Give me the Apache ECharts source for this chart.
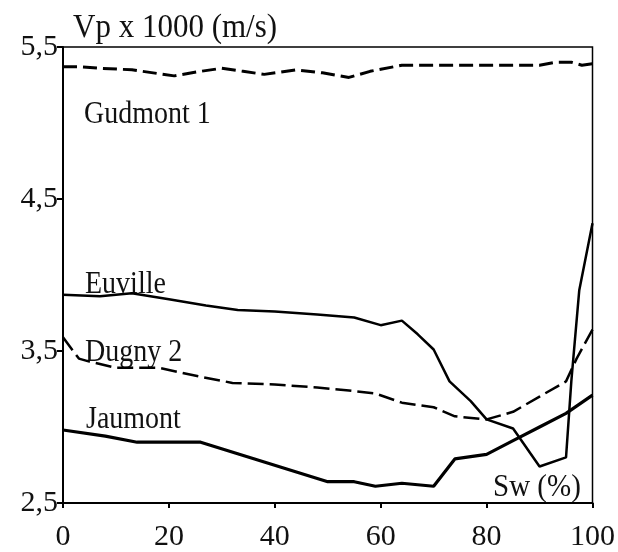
<!DOCTYPE html>
<html>
<head>
<meta charset="utf-8">
<script src="https://cdn.jsdelivr.net/npm/echarts@6/dist/echarts.min.js"></script>
<style>
  html, body { margin: 0; padding: 0; background: #fff; }
  #chart { width: 618px; height: 552px; }
</style>
</head>
<body>
<div id="chart"></div>
<script>
// Sw (%) , Vp x 1000 (m/s)
var gudmont = [[0,5.37],[3,5.37],[7,5.36],[13,5.35],[21,5.31],[26,5.34],[30,5.36],[34,5.34],[38,5.32],[44,5.35],[49,5.33],[54,5.30],[58,5.34],[64,5.38],[75,5.38],[90,5.38],[93,5.40],[96,5.40],[98,5.38],[100,5.39]]
var euville = [[0,3.87],[7,3.86],[13,3.88],[20,3.84],[27,3.80],[33,3.77],[40,3.76],[48,3.74],[55,3.72],[60,3.67],[64,3.70],[67,3.61],[70,3.51],[73,3.30],[77,3.17],[80,3.05],[85,2.99],[90,2.74],[95,2.80],[96,3.30],[97.5,3.90],[100,4.34]]
var dugny = [[0,3.59],[3,3.45],[5,3.43],[10,3.39],[18,3.39],[22,3.36],[26,3.33],[32,3.29],[40,3.28],[48,3.26],[54,3.24],[59,3.22],[64,3.16],[70,3.13],[74,3.07],[80,3.05],[85,3.10],[90,3.20],[95,3.30],[97,3.45],[100,3.64]]
var jaumont = [[0,2.98],[8,2.94],[14,2.90],[26,2.90],[38,2.77],[50,2.64],[55,2.64],[59,2.61],[64,2.63],[70,2.61],[74,2.79],[80,2.82],[85,2.91],[90,3.00],[95,3.09],[100,3.21]]

var serif = '"Liberation Serif", "DejaVu Serif", serif'
var myChart = echarts.init(document.getElementById('chart'))

function lineSeries(name, data, width, dash) {
  return {
    name: name,
    type: 'line',
    data: data,
    symbol: 'none',
    smooth: false,
    lineStyle: { color: '#000', width: width, type: dash || 'solid' },
    z: 3
  }
}

// plain text labels, a bit taller like the scanned figure
function label(text, x, y, size) {
  return { type: 'text', left: x, top: y, scaleY: 1.1,
    style: { text: text, font: size + 'px ' + serif, fill: '#111' } }
}

var option = {
  backgroundColor: '#fff',
  animation: false,
  grid: { left: 63, right: 25, top: 47, bottom: 49, show: true, borderColor: '#000', borderWidth: 1.5 },
  xAxis: {
    type: 'value', min: 0, max: 100, interval: 20,
    axisLine: { show: true, lineStyle: { color: '#000', width: 2 } },
    axisTick: { show: true, length: 5, lineStyle: { color: '#000', width: 2 } },
    axisLabel: { color: '#111', fontFamily: serif, fontSize: 30, margin: 19 },
    splitLine: { show: false }
  },
  yAxis: {
    type: 'value', min: 2.5, max: 5.5, interval: 1,
    axisLine: { show: true, lineStyle: { color: '#000', width: 2 } },
    axisTick: { show: true, length: 6, lineStyle: { color: '#000', width: 2 } },
    axisLabel: {
      color: '#111', fontFamily: serif, fontSize: 30, margin: 5,
      formatter: function (v) { return v.toFixed(1).replace('.', ',') }
    },
    splitLine: { show: false }
  },
  graphic: [
    label('Vp x 1000 (m/s)', 73, 11, 31),
    label('Gudmont 1', 84, 100, 28),
    label('Euville', 85, 270, 28),
    label('Dugny 2', 85, 338, 28),
    label('Jaumont', 86, 405, 28),
    label('Sw (%)', 493, 472, 29)
  ],
  series: [
    lineSeries('Gudmont 1', gudmont, 3, [14, 6]),
    lineSeries('Euville', euville, 2.5),
    lineSeries('Dugny 2', dugny, 2.5, [16, 6]),
    lineSeries('Jaumont', jaumont, 3.2)
  ]
}

myChart.setOption(option)
window.onresize = function () {
  myChart.resize()
}
</script>
</body>
</html>
